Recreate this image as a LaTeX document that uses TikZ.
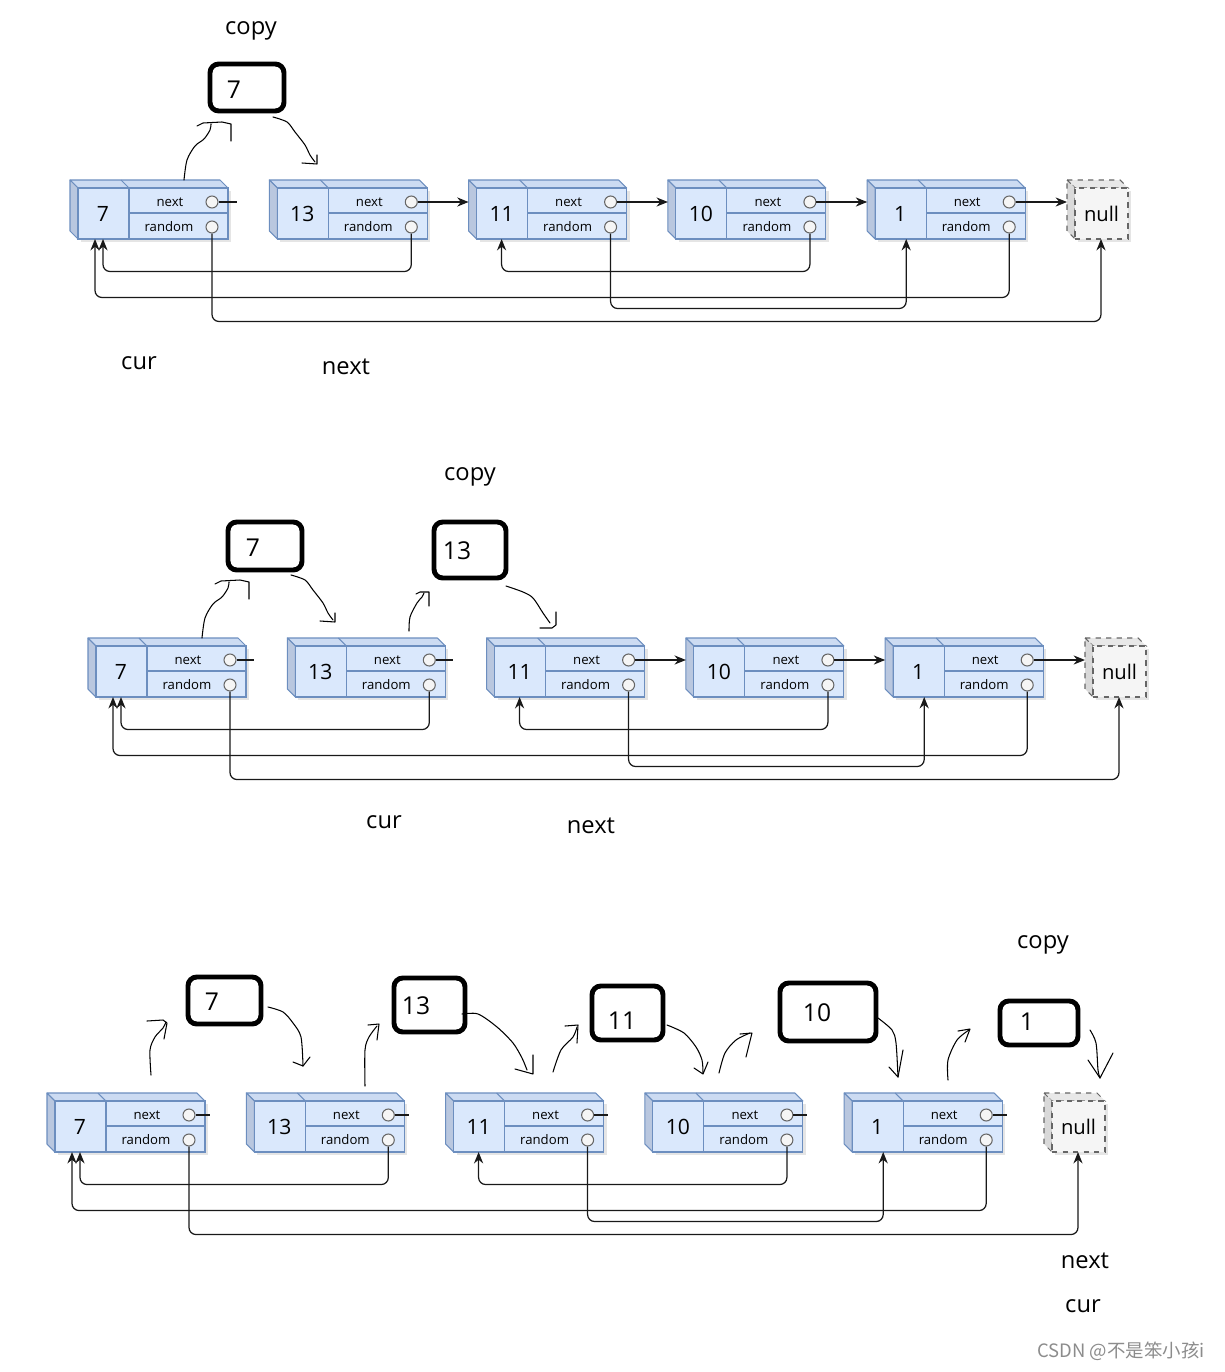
\documentclass[tikz,border=0pt]{standalone}
\usepackage{fontspec}
\setmainfont{Open Sans}
\newfontfamily\cjk{Noto Sans CJK SC}
\usepackage{tikz}
\usetikzlibrary{arrows.meta}
\usetikzlibrary{fit}

\definecolor{frente}{HTML}{DAE8FC}
\definecolor{topo}{HTML}{CCDBF2}
\definecolor{lado}{HTML}{B9C7DF}
\definecolor{borda}{HTML}{6C8EBF}
\definecolor{nulofundo}{HTML}{F5F5F5}
\definecolor{nulotopo}{HTML}{E8E8E8}
\definecolor{nulolado}{HTML}{D9D9D9}
\definecolor{nuloborda}{HTML}{666666}

% um no da lista (canto de cima a esquerda em x,y)
\newcommand{\listnode}[4]{%
  \begin{scope}[shift={({#2},{#3})}]
    \fill[sombra] (11,11) rectangle (161,62);
    \filldraw[face topo] (0,0) -- (150,0) -- (158,8) -- (8,8) -- cycle;
    \draw[aresta] (51,0) -- (59,8);
    \filldraw[face lado] (0,0) -- (8,8) -- (8,59) -- (0,51) -- cycle;
    \node[face frente] (#1) at (83,33.5) {};
    \draw[aresta] (59,8) -- (59,59);
    \draw[aresta] (59,33) -- (158,33);
    \node[valor] (#1-v) at (33,34) {#4};
    \node[campo] (#1-tn) at (100,22) {next};
    \node[campo] (#1-tr) at (99,47) {random};
    \node[bolinha] (#1-nx) at (142,22) {};
    \node[bolinha] (#1-rd) at (142,47) {};
    \coordinate (#1-in) at (0,22);
    \coordinate (#1-b) at (33,59);
    \coordinate (#1-bb) at (25,59);
  \end{scope}
}

% o null no fim da lista
\newcommand{\nullnode}[3]{%
  \begin{scope}[shift={({#2},{#3})}]
    \fill[sombra] (11,11) rectangle (64,62);
    \filldraw[nulo topo] (0,0) -- (53,0) -- (61,8) -- (8,8) -- cycle;
    \filldraw[nulo lado] (0,0) -- (8,8) -- (8,59) -- (0,51) -- cycle;
    \node[nulo frente] (#1) at (34.5,33.5) {null};
    \coordinate (#1-in) at (0,22);
    \coordinate (#1-b) at (34,59);
  \end{scope}
}

\begin{document}
\begin{tikzpicture}[x=0.02cm, y=-0.02cm,
    >={Stealth[length=6.5pt,width=5.2pt]},
    sombra/.style={fill=black, opacity=0.1},
    face topo/.style={fill=topo, draw=borda, line width=0.6pt, line join=round},
    face lado/.style={fill=lado, draw=borda, line width=0.6pt, line join=round},
    face frente/.style={fill=frente, draw=borda, line width=0.6pt, inner sep=0pt,
        minimum width=3cm, minimum height=1.02cm},
    aresta/.style={draw=borda, line width=0.6pt},
    nulo topo/.style={fill=nulotopo, draw=nuloborda, dashed, line width=0.6pt},
    nulo lado/.style={fill=nulolado, draw=nuloborda, dashed, line width=0.6pt},
    nulo frente/.style={fill=nulofundo, draw=nuloborda, dashed, line width=0.6pt,
        inner sep=0pt, minimum width=1.06cm, minimum height=1.02cm,
        font=\fontsize{11.5}{13}\selectfont},
    valor/.style={inner sep=0pt, font=\fontsize{12}{14}\selectfont},
    campo/.style={inner sep=0pt, font=\fontsize{7.5}{9}\selectfont},
    bolinha/.style={circle, draw=nuloborda, fill=nulofundo, line width=0.6pt,
        inner sep=0pt, minimum size=0.24cm},
    ligacao/.style={draw=black!90, line width=0.7pt, rounded corners=4pt},
    copia/.style={draw, line width=2.8pt, rounded corners=5pt, inner sep=0pt},
    numcopia/.style={inner sep=0pt, font=\fontsize{14}{16}\selectfont},
    rotulo/.style={inner sep=0pt, font=\fontsize{13.5}{16}\selectfont},
    traco/.style={line width=0.6pt, line join=round, line cap=round},
    marca/.style={inner sep=0pt, text=black!45, font=\cjk\fontsize{10.5}{12}\selectfont}]

    \useasboundingbox (0,0) rectangle (1224,1372);

    % as tres listas
    \foreach \rw/\x/\y in {p/70/180, q/88/638, s/47/1093}{
        \foreach \val [count=\i] in {7,13,11,10,1}{
            \listnode{\rw\i}{\x+199.3*(\i-1)}{\y}{\val}
        }
        \nullnode{\rw6}{\x+997}{\y}
        % ponteiros random
        \draw[ligacao,->] (\rw2-rd.south) -- ++(0,38) -| (\rw1-b);
        \draw[ligacao,->] (\rw4-rd.south) -- ++(0,38) -| (\rw3-b);
        \draw[ligacao,->] (\rw5-rd.south) -- ++(0,64) -| (\rw1-bb);
        \draw[ligacao,->] (\rw3-rd.south) -- ++(0,75) -| ([xshift=0.12cm]\rw5-b);
        \draw[ligacao,->] (\rw1-rd.south) -- ++(0,88) -| (\rw6-b);
    }

    % ponteiros next, lista 1
    \draw[ligacao] (p1-nx.east) -- ++(18,0);
    \draw[ligacao,->] (p2-nx.east) -- (p3-in);
    \draw[ligacao,->] (p3-nx.east) -- (p4-in);
    \draw[ligacao,->] (p4-nx.east) -- (p5-in);
    \draw[ligacao,->] (p5-nx.east) -- (p6-in);

    % ponteiros next, lista 2
    \draw[ligacao] (q1-nx.east) -- ++(17,0);
    \draw[ligacao] (q2-nx.east) -- ++(17,0);
    \draw[ligacao,->] (q3-nx.east) -- (q4-in);
    \draw[ligacao,->] (q4-nx.east) -- (q5-in);
    \draw[ligacao,->] (q5-nx.east) -- (q6-in);

    % ponteiros next, lista 3
    \foreach \i in {1,...,5}
        \draw[ligacao] (s\i-nx.east) -- ++(14,0);

    % copias, lista 1
    \node[copia, fit={(210,64) (284,111)}] (cpa) {};
    \node[numcopia] (cpa-t) at (234,90) {7};
    \node[rotulo] (copy1) at (251,31) {copy};
    \node[rotulo] (cur1) at (139,363) {cur};
    \node[rotulo] (next1) at (346,367) {next};
    \draw[traco] plot[smooth] coordinates {(184,180) (187,160) (195,146) (204,139) (210,130) (211,124)};
    \draw[traco] (197,126) -- (203,123) -- (222,122) -- (231,124) -- (231,141);
    \draw[traco] plot[smooth] coordinates {(273,117) (287,122) (295,132) (305,145) (310,155) (315,162)};
    \draw[traco] (302,163) -- (317,164) -- (317,155);

    % copias, lista 2
    \node[copia, fit={(228,522) (302,570)}] (cqa) {};
    \node[numcopia] (cqa-t) at (253,548) {7};
    \node[copia, fit={(434,522) (506,578)}] (cqb) {};
    \node[numcopia] (cqb-t) at (457,551) {13};
    \node[rotulo] (copy2) at (470,477) {copy};
    \node[rotulo] (cur2) at (384,822) {cur};
    \node[rotulo] (next2) at (591,826) {next};
    \begin{scope}[shift={(18,458)}]
        \draw[traco] plot[smooth] coordinates {(184,180) (187,160) (195,146) (204,139) (210,130) (211,124)};
        \draw[traco] (197,126) -- (203,123) -- (222,122) -- (231,124) -- (231,141);
        \draw[traco] plot[smooth] coordinates {(273,117) (287,122) (295,132) (305,145) (310,155) (315,162)};
        \draw[traco] (302,163) -- (317,164) -- (317,155);
    \end{scope}
    \draw[traco] plot[smooth] coordinates {(409,631) (410,617) (417,603) (422,597) (424,593)};
    \draw[traco] (416,594) -- (420,592) -- (429,592) -- (429,606);
    \draw[traco] plot[smooth] coordinates {(506,586) (523,592) (533,598) (543,613) (550,623)};
    \draw[traco] (540,628) -- (552,628) -- (556,625) -- (556,612);

    % copias, lista 3
    \node[copia, fit={(188,977) (261,1024)}] (csa) {};
    \node[numcopia] (csa-t) at (212,1002) {7};
    \node[copia, fit={(394,978) (465,1032)}] (csb) {};
    \node[numcopia] (csb-t) at (416,1006) {13};
    \node[copia, fit={(592,986) (663,1040)}] (csc) {};
    \node[numcopia] (csc-t) at (622,1021) {11};
    \node[copia, fit={(780,983) (876,1041)}] (csd) {};
    \node[numcopia] (csd-t) at (817,1013) {10};
    \node[copia, fit={(1000,1001) (1078,1045)}] (cse) {};
    \node[numcopia] (cse-t) at (1027,1022) {1};
    \node[rotulo] (copy3) at (1043,945) {copy};
    \node[rotulo] (next3) at (1085,1261) {next};
    \node[rotulo] (cur3) at (1083,1306) {cur};
    \draw[traco] plot[smooth] coordinates {(151,1075) (150,1050) (155,1037) (163,1028) (166,1022)};
    \draw[traco] (147,1021) -- (163,1020) -- (167,1023) -- (164,1039);
    \draw[traco] plot[smooth] coordinates {(268,1007) (283,1012) (293,1023) (301,1037) (303,1066)};
    \draw[traco] (293,1062) -- (303,1066) -- (310,1057);
    \draw[traco] plot[smooth] coordinates {(365,1086) (365,1050) (369,1037) (377,1026)};
    \draw[traco] (368,1025) -- (379,1024) -- (377,1040);
    \draw[traco] plot[smooth] coordinates {(462,1014) (478,1014) (497,1027) (513,1043) (522,1058) (527,1070)};
    \draw[traco] (515,1069) -- (533,1074) -- (533,1055);
    \draw[traco] plot[smooth] coordinates {(553,1072) (561,1050) (573,1037) (577,1027)};
    \draw[traco] (565,1026) -- (578,1025) -- (577,1043);
    \draw[traco] plot[smooth] coordinates {(667,1025) (684,1033) (696,1047) (702,1060) (703,1073)};
    \draw[traco] (694,1068) -- (703,1074) -- (708,1062);
    \draw[traco] plot[smooth] coordinates {(719,1073) (725,1053) (736,1040) (750,1033)};
    \draw[traco] (740,1034) -- (752,1033) -- (746,1057);
    \draw[traco] plot[smooth] coordinates {(878,1018) (892,1030) (896,1043) (898,1077)};
    \draw[traco] (889,1067) -- (898,1077) -- (903,1050);
    \draw[traco] plot[smooth] coordinates {(948,1080) (948,1060) (957,1040) (969,1030)};
    \draw[traco] (958,1031) -- (970,1029) -- (965,1042);
    \draw[traco] plot[smooth] coordinates {(1090,1030) (1096,1043) (1098,1070) (1100,1078)};
    \draw[traco] (1088,1060) -- (1100,1078) -- (1113,1053);

    % marca d'agua
    \node[marca] (wm) at (1121,1351) {CSDN @不是笨小孩i};

\end{tikzpicture}
\end{document}
